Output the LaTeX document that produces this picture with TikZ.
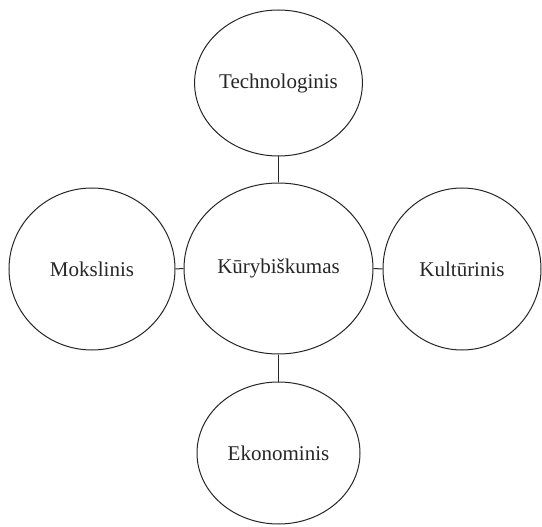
\documentclass[tikz,border=0pt]{standalone}
\usepackage{fontspec}
\setmainfont{Liberation Serif}
\usetikzlibrary{shapes.geometric}
\begin{document}
\begin{tikzpicture}[x=1pt,y=-1pt,
  bubble/.style={draw=black!85,line width=1pt,ellipse,inner sep=0pt,
    font=\fontsize{21}{25}\selectfont,text=black!85},
  link/.style={draw=black!85,line width=1pt}]
  \useasboundingbox (0,0) rectangle (542,527);
  \node[bubble,minimum width=163,minimum height=146] (tech) at (278.5,83) {Technologinis};
  \node[bubble,minimum width=189,minimum height=171] (kur) at (278.5,268.5) {Kūrybiškumas};
  \node[bubble,minimum width=166,minimum height=162] (moks) at (92,269) {Mokslinis};
  \node[bubble,minimum width=158,minimum height=162] (kult) at (462,269) {Kultūrinis};
  \node[bubble,minimum width=163,minimum height=142] (eko) at (278.5,453) {Ekonominis};
  \draw[link] (tech.south) -- (kur.north);
  \draw[link] (kur.south) -- (eko.north);
  \draw[link] (moks.east) -- (kur.west);
  \draw[link] (kur.east) -- (kult.west);
\end{tikzpicture}
\end{document}
